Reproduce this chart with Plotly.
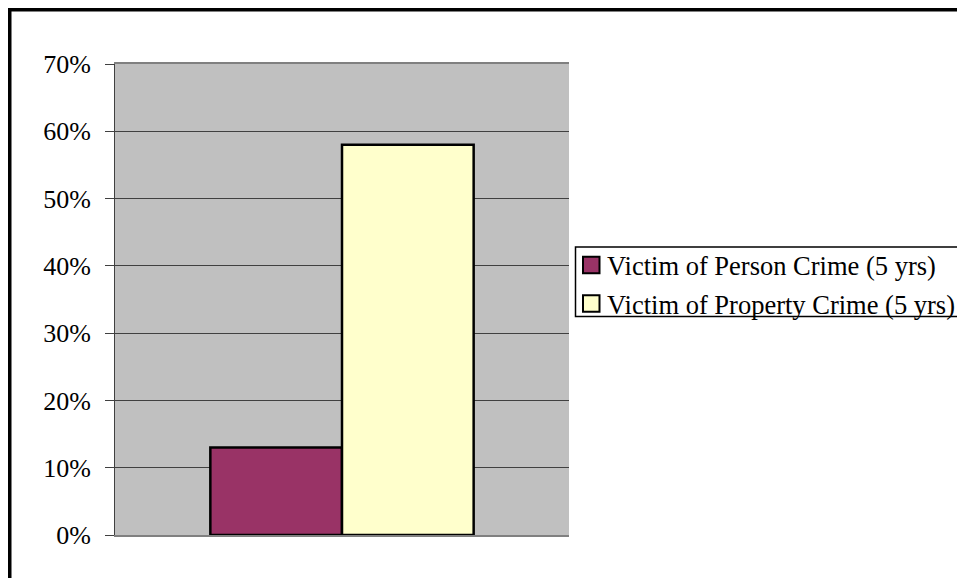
import plotly.graph_objects as go

categories = [""]
series_names = ["Victim of Person Crime (5 yrs)", "Victim of Property Crime (5 yrs)"]
series_colors = ["#993366", "#FFFFCC"]
person_values = [0.13]
property_values = [0.58]
y_ticks = [0, 0.1, 0.2, 0.3, 0.4, 0.5, 0.6, 0.7]

FONT = "Liberation Serif, Times New Roman, serif"

fig = go.Figure()
fig.add_trace(go.Bar(x=categories, y=person_values, name=series_names[0],
                     marker=dict(color=series_colors[0], line=dict(color="black", width=2.5))))
fig.add_trace(go.Bar(x=categories, y=property_values, name=series_names[1],
                     marker=dict(color=series_colors[1], line=dict(color="black", width=2.5))))

# page body has an 8px margin: figure coords = window coords - 8
OFF = 8
W, H = 957, 570
L, T = 115 - OFF, 64 - OFF
R = W - (569 - OFF)
B = H - (535 - OFF)
pw, ph = W - L - R, H - T - B


def px_x(wx):
    return (wx - OFF - L) / pw


def px_y(wy):
    return (T + ph - (wy - OFF)) / ph


shapes = [
    dict(type="line", xref="paper", yref="paper",
         x0=px_x(7), x1=px_x(975), y0=px_y(9.5), y1=px_y(9.5),
         line=dict(color="black", width=4)),
    dict(type="line", xref="paper", yref="paper",
         x0=px_x(9.5), x1=px_x(9.5), y0=px_y(7.5), y1=px_y(600),
         line=dict(color="black", width=4)),
    # legend box
    dict(type="rect", xref="paper", yref="paper",
         x0=px_x(575.5), x1=px_x(960), y0=px_y(247), y1=px_y(316.5),
         line=dict(color="black", width=1.5), fillcolor="white"),
]
annotations = []
row_y = [265, 303.5]
for name, color, ry in zip(series_names, series_colors, row_y):
    shapes.append(dict(type="rect", xref="paper", yref="paper",
                       x0=px_x(583), x1=px_x(599.5), y0=px_y(ry - 8.3), y1=px_y(ry + 8.3),
                       line=dict(color="black", width=2), fillcolor=color))
    annotations.append(dict(xref="paper", yref="paper", x=px_x(605), y=px_y(ry + 1),
                            xanchor="left", yanchor="middle", showarrow=False,
                            text=name, font=dict(family=FONT, size=26.5, color="black")))

fig.update_layout(
    width=W, height=H,
    margin=dict(l=L, r=R, t=T, b=B, pad=0),
    paper_bgcolor="white",
    plot_bgcolor="#C0C0C0",
    barmode="group",
    bargap=0.42,
    bargroupgap=0,
    font=dict(family=FONT, size=26, color="black"),
    showlegend=False,
    xaxis=dict(showticklabels=False, showgrid=False, ticks="",
               showline=True, mirror=True, linecolor="#808080", linewidth=2,
               zeroline=False),
    yaxis=dict(range=[0, 0.7], tickvals=y_ticks, tickformat=".0%",
               showgrid=True, gridcolor="#404040", gridwidth=1,
               ticks="outside", ticklen=9, tickcolor="#404040",
               ticklabelstandoff=9,
               showline=True, linecolor="#404040", linewidth=1,
               zeroline=False),
    shapes=shapes,
    annotations=annotations,
)

fig.write_html("out.html")
